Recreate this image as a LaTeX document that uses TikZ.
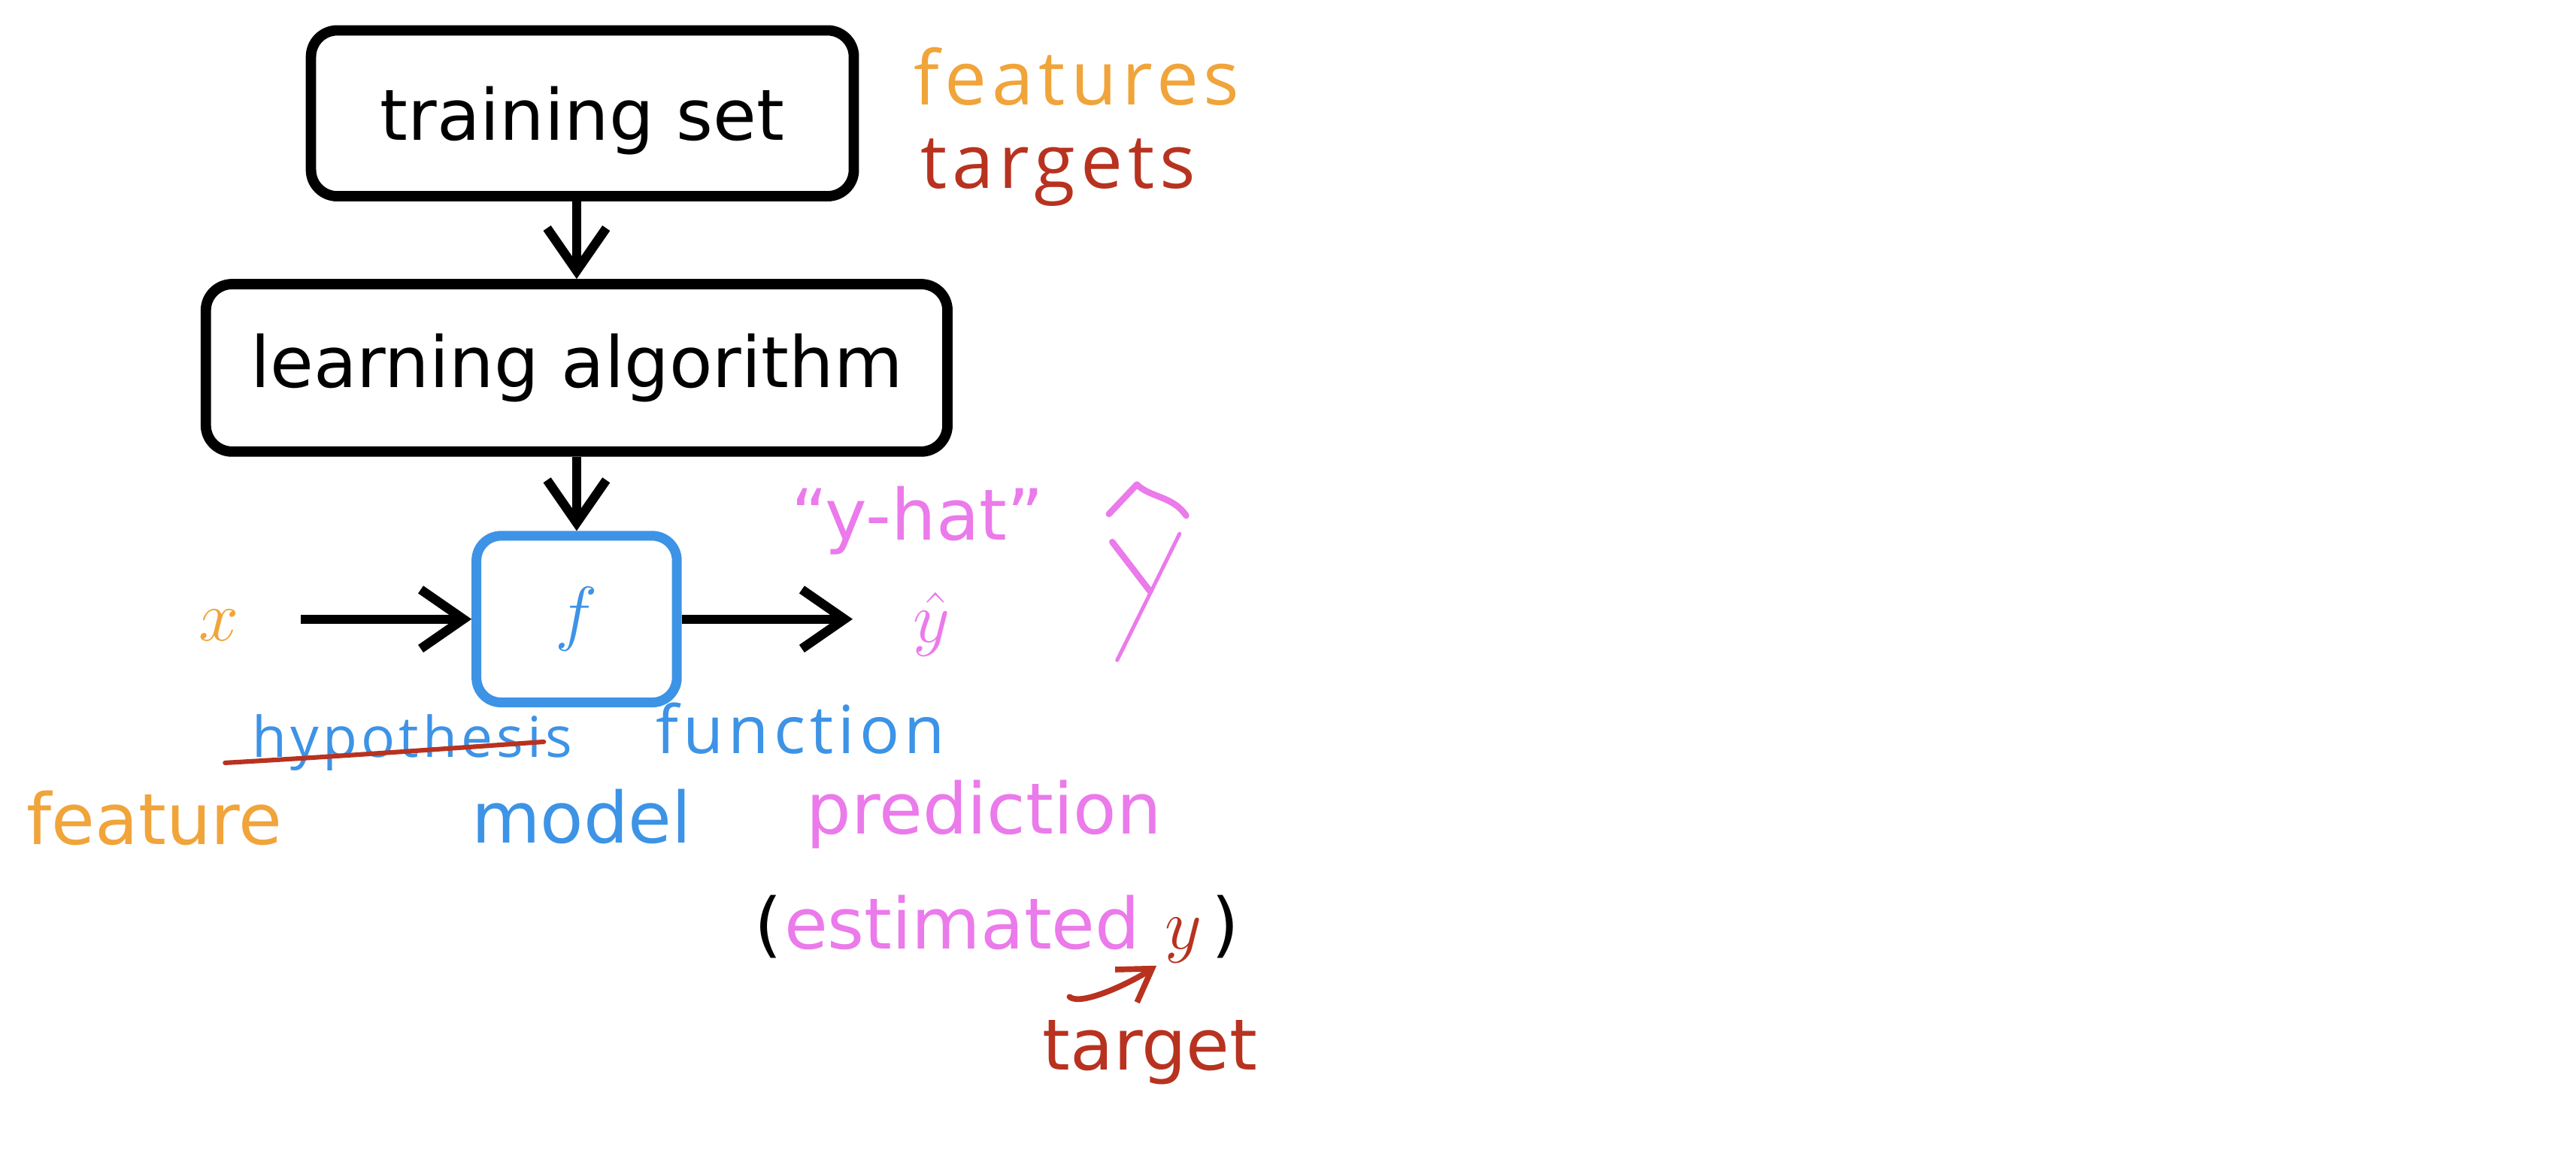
\documentclass[tikz,border=0pt]{standalone}
\usepackage{fontspec}
\setmainfont{DejaVu Sans}
\newfontfamily\hw[LetterSpace=7]{Open Sans}
\usetikzlibrary{arrows.meta}
\definecolor{morange}{HTML}{F0A43A}
\definecolor{mred}{HTML}{B83220}
\definecolor{mblue}{HTML}{3D93E6}
\definecolor{mpink}{HTML}{EB7AEB}
\begin{document}
\begin{tikzpicture}[x=0.02cm,y=-0.02cm,
  lbl/.style={font=\fontsize{24.5}{29}\selectfont, inner sep=0pt},
  blackbox/.style={draw=black, line width=3.6pt, rounded corners=0.32cm, inner sep=0pt, lbl},
  bluebox/.style={draw=mblue, line width=3.4pt, rounded corners=0.3cm, inner sep=0pt, minimum width=2.44cm, minimum height=2.03cm},
  flow/.style={line width=3.2pt, -{Straight Barb[length=0.52cm,width=0.72cm]}},
  mathlbl/.style={font=\fontsize{33}{40}\selectfont, inner sep=0pt},
  handbig/.style={font=\hw\fontsize{26}{30}\selectfont, inner sep=0pt},
  handsmall/.style={font=\hw\fontsize{19.5}{23}\selectfont, inner sep=0pt},
  pen/.style={line cap=round, line join=round},
]
\useasboundingbox (0,0) rectangle (1568,707.5);

% boxes
\node[blackbox, minimum width=6.61cm, minimum height=2.02cm, text depth=0pt] (ts) at (354.5,69) {training set};
\node[blackbox, minimum width=9.03cm, minimum height=2.04cm] (la) at (351,224) {learning algorithm};
\node[bluebox, mathlbl, text=mblue] (f) at (351,377) {$f$};
\coordinate (axis) at (351,0);
\draw[flow] (ts.south -| axis) -- (la.north -| axis);
\draw[flow] (la.south -| axis) -- (f.north);

% input / output
\node[mathlbl, text=morange, anchor=base] (x) at (133,390) {$x$};
\coordinate (xs) at (183,377);
\draw[flow] (xs) -- (f.west);
\coordinate (ye) at (519,377);
\draw[flow] (f.east) -- (ye);
\node[mathlbl, text=mpink, anchor=base] (yhat) at (567,391) {$\hat{y}$};
\node[lbl, text=mpink, anchor=base] (yhattxt) at (558.5,329) {“y-hat”};

% hand-drawn y-hat
\draw[mpink, pen, line width=2.2pt] (675,313) -- (692,295) .. controls (700,303) and (714,302) .. (722,314);
\draw[mpink, pen, line width=2.2pt] (677,330) -- (700,360);
\draw[mpink, pen, line width=1.3pt] (718,325) -- (680,402);

% handwritten notes
\node[handbig, text=morange, anchor=base west] (feats) at (556,64) {features};
\node[handbig, text=mred, anchor=base west] (targs) at (560,114.5) {targets};
\node[handsmall, text=mblue, anchor=base west] (hyp) at (153,461) {hypothesis};
\draw[mred, pen, line width=1.6pt] (137,464.5) .. controls (200,461) and (270,456) .. (331,451.7);
\node[handsmall, font=\hw\fontsize{23}{27}\selectfont, text=mblue, anchor=base west] (func) at (399,459) {function};

% bottom labels
\node[lbl, text=morange, anchor=base] (feature) at (94,514) {feature};
\node[lbl, text=mblue, anchor=base] (model) at (354,513.5) {model};
\node[lbl, text=mpink, anchor=base] (pred) at (599,508) {prediction};

\node[lbl, anchor=base west] (lp) at (459,578) {(};
\node[lbl, text=mpink, anchor=base west] (est) at (477,578) {estimated};
\node[font=\fontsize{30}{36}\selectfont, text=mred, anchor=base west, inner sep=0pt] (yy) at (709,578) {$y$};
\node[lbl, anchor=base west] (rp) at (737,578) {)};

\node[lbl, text=mred, anchor=base] (target) at (700,651.5) {target};
\coordinate (ta) at (651,607);
\coordinate (tb) at (704,588);
\draw[mred, pen, line width=2pt, -{Straight Barb[length=0.38cm,width=0.48cm]}] (ta) .. controls (658,613) and (689,598) .. (tb);
\end{tikzpicture}
\end{document}
